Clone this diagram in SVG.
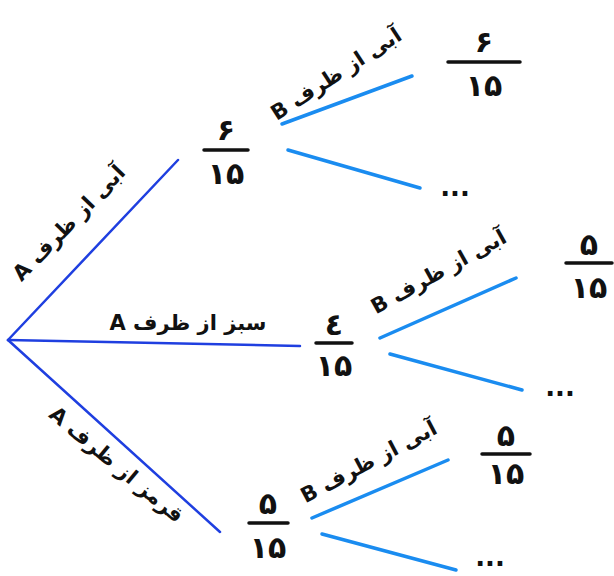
<svg xmlns="http://www.w3.org/2000/svg" width="614" height="576" viewBox="0 0 614 576">
<style>
.l1{stroke:#1f3fe0;stroke-width:2.5;fill:none;stroke-linecap:round}
.l2{stroke:#1a8cf0;stroke-width:3.5;fill:none;stroke-linecap:round}
.bar{stroke:#111;stroke-width:3.5;stroke-linecap:round}
.num{font-family:"DejaVu Sans",sans-serif;font-size:30px;font-weight:bold;fill:#111;text-anchor:middle}
.lab{font-family:"DejaVu Sans",sans-serif;font-size:21px;font-weight:bold;fill:#111;text-anchor:middle}
.dots{font-family:"DejaVu Sans",sans-serif;font-size:26px;font-weight:bold;fill:#111;text-anchor:middle}
</style>
<rect width="614" height="576" fill="#fff"/>
<g id="connectors">
<line class="l1" x1="8" y1="340" x2="178" y2="160"/>
<line class="l1" x1="8" y1="340" x2="300" y2="346"/>
<line class="l1" x1="8" y1="340" x2="220" y2="532"/>
<line class="l2" x1="282" y1="124" x2="412" y2="76"/>
<line class="l2" x1="288" y1="150" x2="420" y2="188"/>
<line class="l2" x1="380" y1="338" x2="516" y2="278"/>
<line class="l2" x1="390" y1="354" x2="522" y2="390"/>
<line class="l2" x1="312" y1="518" x2="448" y2="460"/>
<line class="l2" x1="322" y1="534" x2="456" y2="570"/>
</g>
<g id="label-blueA"><text class="lab" direction="rtl" transform="translate(74,228) rotate(-46)">آبی از ظرف A</text></g>
<g id="label-greenA"><text class="lab" direction="rtl" x="188" y="330">سبز از ظرف A</text></g>
<g id="label-redA"><text class="lab" direction="rtl" transform="translate(112,470) rotate(40)">قرمز از ظرف A</text></g>
<g id="label-blueB1"><text class="lab" direction="rtl" transform="translate(340,80) rotate(-33)">آبی از ظرف B</text></g>
<g id="label-blueB2"><text class="lab" direction="rtl" transform="translate(442,278) rotate(-29)">آبی از ظرف B</text></g>
<g id="label-blueB3"><text class="lab" direction="rtl" transform="translate(372,468) rotate(-28)">آبی از ظرف B</text></g>
<g id="frac-6-15"><text class="num" x="226" y="140">۶</text><line class="bar" x1="204" y1="150" x2="248" y2="150"/><text class="num" x="226" y="184">۱۵</text></g>
<g id="frac-6-15-b"><text class="num" x="484" y="52">۶</text><line class="bar" x1="448" y1="62" x2="520" y2="62"/><text class="num" x="484" y="96">۱۵</text></g>
<g id="frac-4-15"><text class="num" x="334" y="335">٤</text><line class="bar" x1="316" y1="343" x2="352" y2="343"/><text class="num" x="334" y="376">۱۵</text></g>
<g id="frac-5-15-a"><text class="num" x="589" y="255">۵</text><line class="bar" x1="566" y1="263" x2="612" y2="263"/><text class="num" x="589" y="298">۱۵</text></g>
<g id="frac-5-15-b"><text class="num" x="506" y="446">۵</text><line class="bar" x1="482" y1="454" x2="530" y2="454"/><text class="num" x="506" y="484">۱۵</text></g>
<g id="frac-5-15-c"><text class="num" x="268" y="514">۵</text><line class="bar" x1="249" y1="523" x2="288" y2="523"/><text class="num" x="268" y="558">۱۵</text></g>
<g id="dots1"><text class="dots" x="455" y="196">...</text></g>
<g id="dots2"><text class="dots" x="560" y="396">...</text></g>
<g id="dots3"><text class="dots" x="490" y="566">...</text></g>
</svg>
